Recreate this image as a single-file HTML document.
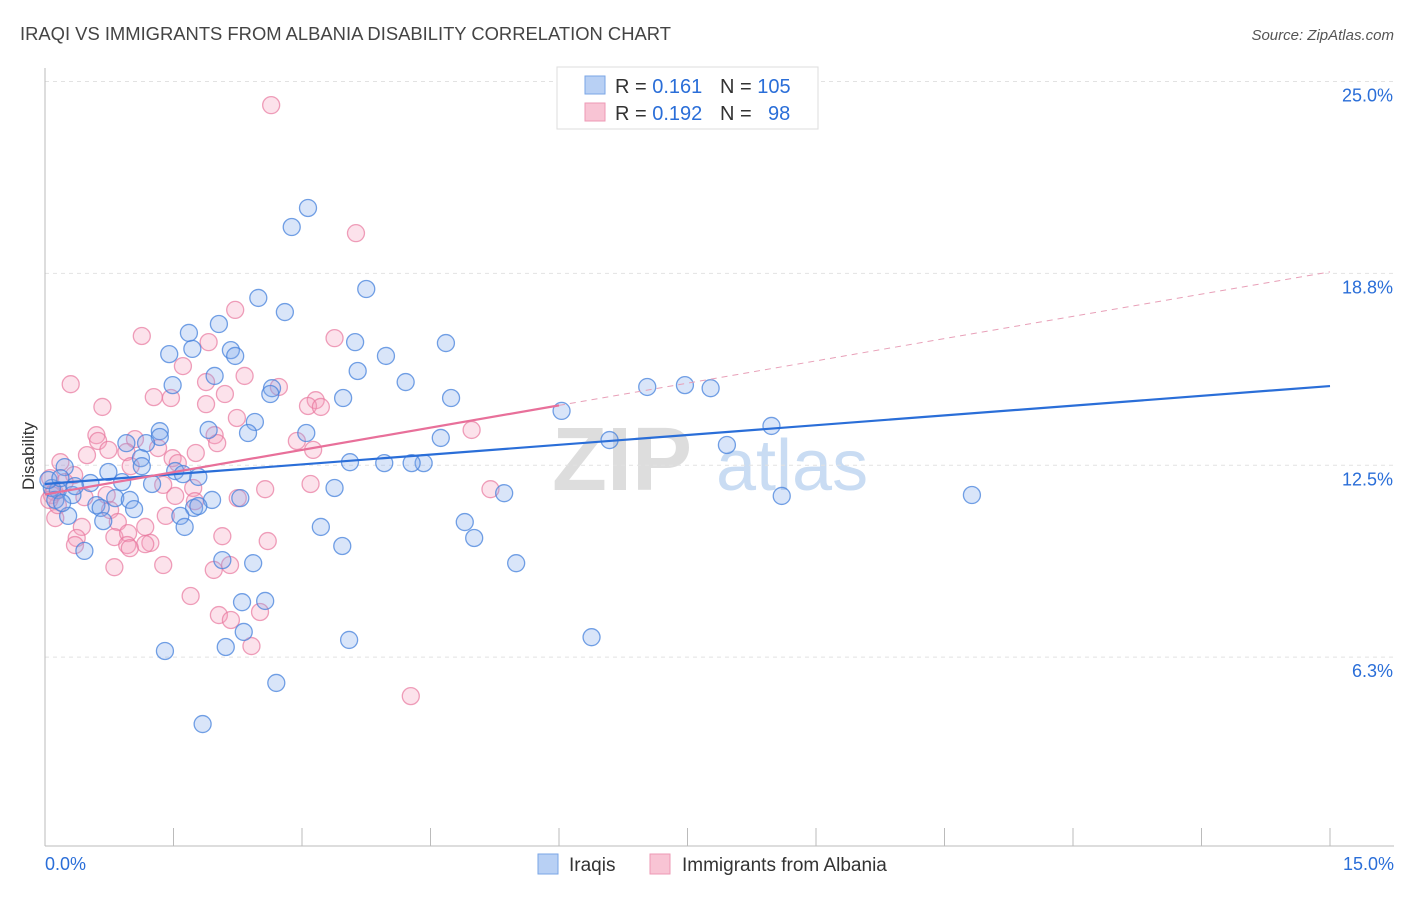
<!DOCTYPE html>
<html><head><meta charset="utf-8"><style>
body{margin:0;background:#fff;font-family:"Liberation Sans",sans-serif;}
svg text{font-family:"Liberation Sans",sans-serif;}
</style></head><body>
<svg id="chart" width="1406" height="892" viewBox="0 0 1406 892" xmlns="http://www.w3.org/2000/svg">
<text x="20" y="40" font-size="18.4" fill="#444">IRAQI VS IMMIGRANTS FROM ALBANIA DISABILITY CORRELATION CHART</text>
<text x="1394" y="40" font-size="15" fill="#555" text-anchor="end" font-style="italic">Source: ZipAtlas.com</text>
<g>
<text x="552" y="490" font-size="90" fill="#ddd" font-family="Liberation Serif" font-weight="bold">ZIP</text>
<text x="716" y="490" font-size="72" fill="#c9dcf3">atlas</text>
</g>
<g id="grid"></g>
<g id="axes"></g>
<g id="pts"></g>
<g id="lines"></g>
<text transform="translate(34,456) rotate(-90)" font-size="17" fill="#333" text-anchor="middle">Disability</text>
<g>
<rect x="557" y="67" width="261" height="62" fill="#fff" stroke="#ddd"/>
<rect x="585" y="76" width="20" height="18" fill="#b8d0f4" stroke="#7aa6e6"/>
<rect x="585" y="103" width="20" height="18" fill="#f8c4d4" stroke="#ee99b5"/>
<text x="615" y="93" font-size="20" fill="#333">R = <tspan fill="#2a6ed8">0.161</tspan></text>
<text x="720" y="93" font-size="20" fill="#333">N = <tspan fill="#2a6ed8">105</tspan></text>
<text x="615" y="120" font-size="20" fill="#333">R = <tspan fill="#2a6ed8">0.192</tspan></text>
<text x="720" y="120" font-size="20" fill="#333">N =</text>
<text x="768" y="120" font-size="20" fill="#2a6ed8">98</text>
</g>
<g>
<rect x="538" y="854" width="20" height="20" fill="#b8d0f4" stroke="#7aa6e6"/>
<text x="569" y="871" font-size="19" fill="#333">Iraqis</text>
<rect x="650" y="854" width="20" height="20" fill="#f8c4d4" stroke="#ee99b5"/>
<text x="682" y="871" font-size="19" fill="#333">Immigrants from Albania</text>
</g>
</svg>
<script>
const blueX=[3.07,2.88,3.75,2.49,2.80,2.03,1.68,1.72,1.45,2.17,2.22,3.62,4.68,3.98,3.65,1.98,1.49,2.65,2.63,4.21,3.48,4.74,7.03,7.47,7.77,6.03,2.45,1.91,2.37,1.34,1.34,3.05,0.95,1.18,4.62,6.59,7.96,8.48,1.12,3.56,3.96,4.42,4.28,1.13,0.74,0.23,1.52,1.61,1.79,0.90,1.25,0.53,3.38,5.36,8.60,10.82,0.15,0.32,0.82,0.99,1.95,2.28,0.60,0.65,1.04,1.74,1.79,0.27,0.68,1.58,4.90,3.22,1.63,5.01,3.47,0.46,2.07,2.43,5.50,2.30,2.57,2.32,6.38,3.55,1.40,2.11,2.70,1.84,0.08,0.12,0.20,0.04,0.18,0.35];
const blueY=[20.88,20.26,18.24,17.95,17.49,17.10,16.81,16.29,16.12,16.25,16.06,16.51,16.48,16.06,15.57,15.41,15.11,15.01,14.82,15.21,14.69,14.69,15.05,15.11,15.01,14.27,13.91,13.65,13.55,13.61,13.42,13.55,13.22,13.22,13.39,13.32,13.16,13.78,12.73,12.60,12.57,12.57,12.57,12.47,12.28,12.44,12.31,12.21,12.12,11.95,11.89,11.92,11.76,11.59,11.50,11.53,11.69,11.53,11.43,11.37,11.37,11.43,11.20,11.11,11.07,11.11,11.17,10.85,10.68,10.85,10.65,10.49,10.49,10.13,9.87,9.71,9.41,9.31,9.31,8.04,8.08,7.07,6.90,6.81,6.45,6.58,5.41,4.07,11.76,11.37,11.27,12.02,12.08,11.82];
const pinkX=[2.64,3.63,2.22,1.13,3.38,1.91,1.61,0.30,2.33,1.88,2.73,2.10,1.27,1.47,3.16,1.88,0.67,3.07,3.22,2.24,0.60,0.62,1.98,4.98,2.94,2.01,1.05,0.74,1.32,0.95,3.13,0.49,1.76,1.49,0.18,1.55,1.00,0.34,1.38,3.10,2.57,5.20,1.73,0.11,0.46,0.72,1.52,2.25,0.76,1.75,0.12,1.41,0.85,1.17,0.43,0.37,0.81,0.97,2.07,2.60,1.23,0.35,0.96,1.17,0.99,2.16,0.81,1.38,1.97,1.70,2.03,2.51,2.17,2.41,4.27,0.08,0.15,0.06,0.23,0.05];
const pinkY=[24.23,20.06,17.56,16.71,16.64,16.51,15.73,15.14,15.41,15.21,15.05,14.82,14.72,14.69,14.62,14.49,14.40,14.43,14.40,14.04,13.48,13.29,13.48,13.65,13.29,13.22,13.35,13.00,13.06,12.93,13.00,12.83,12.90,12.73,12.60,12.57,12.47,12.18,11.86,11.89,11.72,11.72,11.76,11.63,11.46,11.53,11.50,11.43,11.04,11.33,10.78,10.85,10.65,10.49,10.49,10.13,10.16,10.29,10.19,10.03,9.97,9.90,9.90,9.93,9.80,9.25,9.18,9.25,9.09,8.24,7.62,7.72,7.46,6.61,4.98,11.53,11.20,12.08,11.95,11.37];
const blueTrend=[11.89,15.08];
const pinkTrend=[11.55,18.8];
const pinkSolidEnd=6.0;
const yTicks=[25,18.75,12.5,6.25];
const yTickLabels=["25.0%","18.8%","12.5%","6.3%"];
const xTicks=[0,1.5,3,4.5,6,7.5,9,10.5,12,13.5,15];

const NS="http://www.w3.org/2000/svg";
const X=v=>45+v*(1285/15);
const Y=v=>849-v*30.7;
function mk(tag,attrs,parent){const e=document.createElementNS(NS,tag);for(const k in attrs)e.setAttribute(k,attrs[k]);parent.appendChild(e);return e;}
const grid=document.getElementById('grid'),axes=document.getElementById('axes'),pts=document.getElementById('pts'),lines=document.getElementById('lines');
yTicks.forEach((t,i)=>{
 const l=mk('line',{x1:45,x2:1394,y1:Y(t),y2:Y(t),stroke:'#e2e2e2','stroke-dasharray':'4,4'},grid);
 
 
 const tx=mk('text',{x:1393,y:Y(t)+20,'font-size':18,fill:'#2a6ed8','text-anchor':'end'},axes);
 tx.textContent=yTickLabels[i];
 
 
});
mk('line',{x1:45,x2:45,y1:68,y2:846,stroke:'#bbb'},axes);
mk('line',{x1:45,x2:1394,y1:846,y2:846,stroke:'#bbb'},axes);
xTicks.forEach(t=>{
 const l=mk('line',{x1:X(t),x2:X(t),y1:828,y2:846,stroke:'#bbb'},axes);
 
 
});
const x0=mk('text',{x:45,y:870,'font-size':18,fill:'#2a6ed8'},axes);x0.textContent="0.0%";


const x1=mk('text',{x:1394,y:870,'font-size':18,fill:'#2a6ed8','text-anchor':'end'},axes);x1.textContent="15.0%";


function dots(xs,ys,fill,stroke,name){xs.forEach((v,i)=>{
 const c=mk('circle',{cx:X(v),cy:Y(ys[i]),r:8.5,fill:fill,stroke:stroke,'stroke-width':1.3},pts);
 
 
});}
dots(pinkX,pinkY,'rgba(244,160,188,0.3)','rgba(232,120,158,0.7)','albania-point');
dots(blueX,blueY,'rgba(130,170,235,0.3)','rgba(70,130,220,0.75)','iraqi-point');
const bl=mk('line',{x1:X(0),y1:Y(blueTrend[0]),x2:X(15),y2:Y(blueTrend[1]),stroke:'#2a6ed8','stroke-width':2.2},lines);


const pv=x=>pinkTrend[0]+(pinkTrend[1]-pinkTrend[0])*x/15;
const pl=mk('line',{x1:X(0),y1:Y(pv(0)),x2:X(pinkSolidEnd),y2:Y(pv(pinkSolidEnd)),stroke:'#e8709a','stroke-width':2.2},lines);


const pd=mk('line',{x1:X(pinkSolidEnd),y1:Y(pv(pinkSolidEnd)),x2:X(15),y2:Y(pv(15)),stroke:'#e8a0b8','stroke-width':1,'stroke-dasharray':'6,5'},lines);


</script>
</body></html>
